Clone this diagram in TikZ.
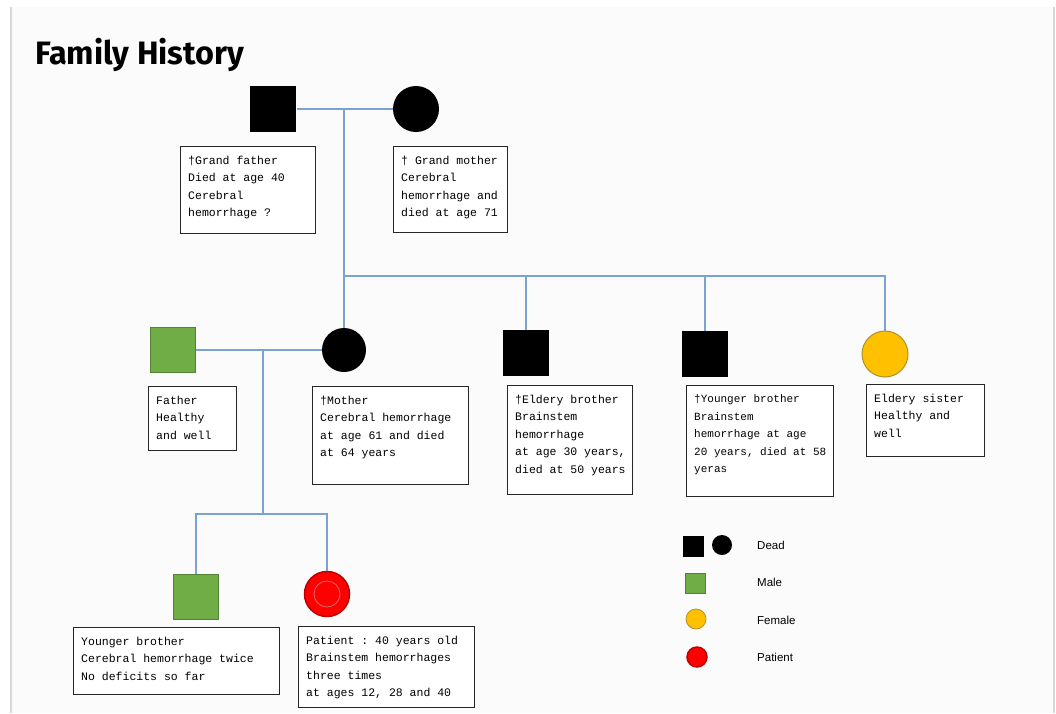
\documentclass[tikz,border=0pt]{standalone}
\usepackage{fontspec}
\setmainfont{Liberation Serif}
\setmonofont{Liberation Mono}
\setsansfont{Liberation Sans}
\newfontfamily\titlefont{Fira Sans}
\usetikzlibrary{calc}

\definecolor{linkblue}{RGB}{122,164,206}
\definecolor{malegreen}{RGB}{112,173,71}
\definecolor{maleedge}{RGB}{84,130,53}
\definecolor{femyellow}{RGB}{255,192,0}
\definecolor{femedge}{RGB}{175,145,40}
\definecolor{patred}{RGB}{255,0,0}
\definecolor{patedge}{RGB}{192,0,0}
\definecolor{patring}{RGB}{222,105,105}
\definecolor{pagegray}{RGB}{251,251,251}
\definecolor{rulegray}{RGB}{215,215,215}

\newcommand\notefont{\fontsize{11.5}{17.5}\selectfont\ttfamily}
% box frame + text in its top left corner
\newcommand\famnote[6][]{%
  \node[notebox,minimum width=#4,minimum height=#5] (#2) at (#3) {};
  \node[notetext,#1] (#2-txt) at ([xshift=8pt,yshift=-9.5pt]#2.north west) {#6};
}

\begin{document}
\begin{tikzpicture}[x=1pt,y=-1pt,
  rel/.style={draw=linkblue,line width=2.4pt},
  symb/.style={inner sep=0pt,line width=1pt},
  deadm/.style={symb,rectangle,fill=black,minimum size=46pt},
  deadf/.style={symb,circle,fill=black,minimum size=46pt},
  malesq/.style={symb,rectangle,fill=malegreen,draw=maleedge,minimum size=45pt},
  femcirc/.style={symb,circle,fill=femyellow,draw=femedge,minimum size=46pt},
  patcirc/.style={symb,circle,fill=patred,draw=patedge,line width=1.5pt,minimum size=45pt},
  notebox/.style={draw=black!85,line width=1pt,fill=white,anchor=north west,inner sep=0pt},
  notetext/.style={anchor=north west,inner sep=0pt,align=left,font=\notefont},
  legtext/.style={anchor=west,inner sep=0pt,font=\sffamily\fontsize{11.5}{13}\selectfont}]
\path[use as bounding box] (0,0) rectangle (1056,713);
\fill[pagegray] (11,7) rectangle (1054,713);
\draw[rulegray,line width=1.2pt] (11,7) -- (11,713) (1054,7) -- (1054,713);

\node[anchor=base west,inner sep=0pt,font={\titlefont\bfseries\fontsize{32.4}{38}\selectfont}] (title) at (35,64) {Family History};

% people
\node[deadm] (gfather) at (273,109) {};
\node[deadf] (gmother) at (416,109) {};
\node[malesq] (father) at (173,350) {};
\node[deadf,minimum size=44pt] (mother) at (344,350) {};
\node[deadm] (ebro) at (526,353) {};
\node[deadm] (ybro) at (705,354) {};
\node[femcirc] (esis) at (885,354) {};
\node[malesq] (ybro2) at (196,597) {};
\node[patcirc] (patient) at (327,594) {};
\node[circle,draw=patring,line width=0.8pt,minimum size=26pt,inner sep=0pt] (patin) at (patient.center) {};

% lines
\coordinate (gpmid) at (344,109);
\coordinate (sibl) at (344,276);
\coordinate (ppmid) at (263,350);
\coordinate (kidbar) at (263,514);
\draw[rel] (gfather) -- (gmother);
\draw[rel] (gpmid) -- (sibl) -- (esis.north |- sibl) -- (esis.north);
\draw[rel] (sibl) -- (mother.north);
\draw[rel] (ebro.north |- sibl) -- (ebro.north);
\draw[rel] (ybro.north |- sibl) -- (ybro.north);
\draw[rel] (father) -- (mother);
\draw[rel] (ppmid) -- (kidbar);
\draw[rel] (ybro2.north) -- (ybro2.north |- kidbar) -- (patient.north |- kidbar) -- (patient.north);

% notes
\famnote{gfnote}{180,146}{135pt}{87pt}{†Grand father\\Died at age 40\\Cerebral\\hemorrhage ?}
\famnote{gmnote}{393,146}{114pt}{86pt}{† Grand mother\\Cerebral\\hemorrhage and\\died at age 71}
\famnote{fanote}{148,386}{88pt}{64pt}{Father\\Healthy\\and well}
\famnote{monote}{312,386}{156pt}{98pt}{†Mother\\Cerebral hemorrhage\\at age 61 and died\\at 64 years}
\famnote{ebnote}{507,385}{125pt}{109pt}{†Eldery brother\\Brainstem\\hemorrhage\\at age 30 years,\\died at 50 years}
\famnote[font=\fontsize{11}{17.5}\selectfont\ttfamily]{ybnote}{686,385}{147pt}{111pt}{†Younger brother\\Brainstem\\hemorrhage at age\\20 years, died at 58\\yeras}
\famnote{esnote}{866,384}{118pt}{72pt}{Eldery sister\\Healthy and\\well}
\famnote{ysnote}{73,627}{206pt}{67pt}{Younger brother\\Cerebral hemorrhage twice\\No deficits so far}
\famnote{ptnote}{298,626}{176pt}{81pt}{Patient : 40 years old\\Brainstem hemorrhages\\three times\\at ages 12, 28 and 40}

% key
\node[deadm,minimum size=21pt] (kdeadm) at (693.5,546) {};
\node[deadf,minimum size=20pt] (kdeadf) at (722,545) {};
\node[malesq,minimum size=20pt,line width=0.6pt] (kmale) at (695,583) {};
\node[femcirc,minimum size=20pt,line width=0.8pt] (kfem) at (696,619) {};
\node[patcirc,minimum size=20pt] (kpat) at (697,657) {};
\node[legtext] (kdeadtxt) at (757,545) {Dead};
\node[legtext] (kmaletxt) at (757,582) {Male};
\node[legtext] (kfemtxt) at (757,620) {Female};
\node[legtext] (kpattxt) at (757,657) {Patient};
\end{tikzpicture}
\end{document}
